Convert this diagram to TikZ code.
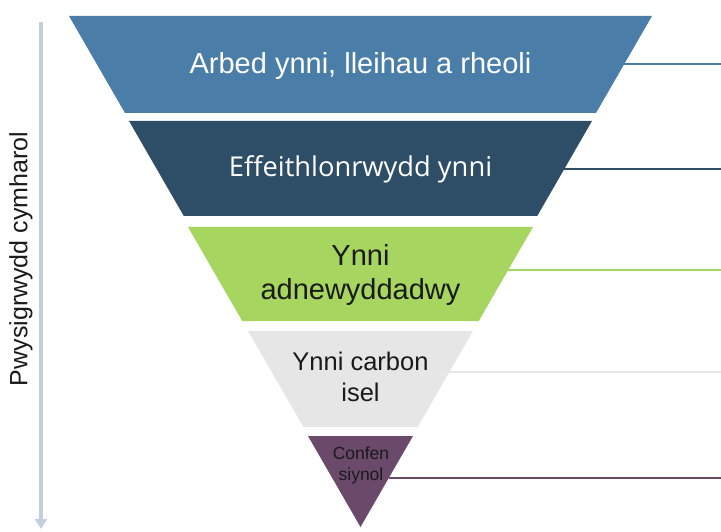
\documentclass[tikz,border=0pt]{standalone}
\usepackage{fontspec}
\setmainfont{Liberation Sans}
\newfontfamily\effont{Open Sans}
\usetikzlibrary{arrows.meta}

\definecolor{saveblue}{HTML}{4A7EA8}
\definecolor{effblue}{HTML}{2E4D66}
\definecolor{renewgreen}{HTML}{A6D660}
\definecolor{lowgray}{HTML}{E6E6E6}
\definecolor{convpurple}{HTML}{6A496B}
\definecolor{axisgray}{HTML}{C3CFE0}
\definecolor{inktext}{HTML}{1A1A1A}

\tikzset{
  layertext/.style={inner sep=0pt, align=center},
  leader/.style={line width=2.2pt},
  weightaxis/.style={axisgray, line width=3.5pt, -{Triangle[length=10pt,width=12pt]}},
}

\begin{document}
\begin{tikzpicture}[x=1pt,y=-1pt]
  \useasboundingbox (0,0) rectangle (721,532);

  % Relative weight axis
  \coordinate (axtop) at (41,22);
  \coordinate (axbot) at (41,529);
  \draw[weightaxis] (axtop) -- (axbot);
  \node[rotate=90, inner sep=0pt, text=inktext, font=\fontsize{25}{30}\selectfont]
    (axislabel) at (21,259) {Pwysigrwydd cymharol};

  % Funnel layers
  \fill[saveblue] (69,16) -- (652,16) -- (596,113) -- (125,113) -- cycle;
  \fill[effblue] (129,121) -- (592,121) -- (537.2,216) -- (183.8,216) -- cycle;
  \fill[renewgreen] (188,227) -- (533,227) -- (478.8,321) -- (242.2,321) -- cycle;
  \fill[lowgray] (248,331) -- (473,331) -- (417.6,427) -- (303.4,427) -- cycle;
  \fill[convpurple] (308,436) -- (413,436) -- (360.5,527) -- cycle;

  % Layer labels
  \node[layertext, anchor=base, text=white, font=\fontsize{29}{34}\selectfont]
    (save) at (360.5,74) {Arbed ynni, lleihau a rheoli};
  \node[layertext, anchor=base, text=white, font=\effont\fontsize{27.3}{32}\selectfont]
    (eff) at (360.5,177) {Effeithlonrwydd ynni};
  \node[layertext, text=inktext, font=\fontsize{29}{34}\selectfont]
    (renew) at (360.5,275) {Ynni\\adnewyddadwy};
  \node[layertext, text=inktext, font=\fontsize{25.5}{31}\selectfont]
    (lowcarbon) at (360.5,377) {Ynni carbon\\isel};
  \node[layertext, text=inktext, font=\fontsize{17.5}{21}\selectfont]
    (conv) at (361,465) {Confen\\siynol};

  % Leader lines to the right
  \coordinate (save-e) at (624.3,64);
  \coordinate (save-r) at (721,64);
  \coordinate (eff-e) at (564.3,169);
  \coordinate (eff-r) at (721,169);
  \coordinate (renew-e) at (508.2,270);
  \coordinate (renew-r) at (721,270);
  \coordinate (lowcarbon-e) at (449.3,372);
  \coordinate (lowcarbon-r) at (721,372);
  \coordinate (conv-e) at (388.8,478);
  \coordinate (conv-r) at (721,478);
  \draw[leader, saveblue] (save-e) -- (save-r);
  \draw[leader, effblue] (eff-e) -- (eff-r);
  \draw[leader, renewgreen] (renew-e) -- (renew-r);
  \draw[leader, lowgray] (lowcarbon-e) -- (lowcarbon-r);
  \draw[leader, convpurple] (conv-e) -- (conv-r);
\end{tikzpicture}
\end{document}
